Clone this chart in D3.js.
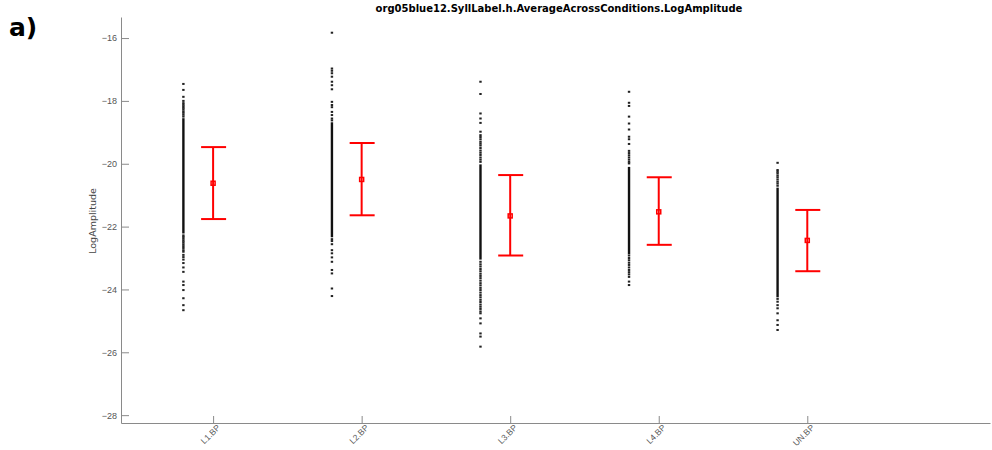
<!DOCTYPE html>
<html>
<head>
<meta charset="utf-8">
<script src="https://cdn.jsdelivr.net/npm/d3@7"></script>
<style>
  body { margin: 0; background: #fff; }
  svg { display: block; font-family: "DejaVu Sans", sans-serif; }
</style>
</head>
<body>
<svg id="chart" width="992" height="450"></svg>
<script>
// categories and summary stats (mean with error bar ends)
const categories = ["L1.BP", "L2.BP", "L3.BP", "L4.BP", "UN.BP"];
const means = [-20.62, -20.50, -21.66, -21.53, -22.44];
const upper = [-19.47, -19.34, -20.36, -20.43, -21.47];
const lower = [-21.76, -21.64, -22.92, -22.58, -23.42];

// dense run of overlapping points in each column (top, bottom)
const coreTop = [-18.55, -18.68, -20.02, -20.1, -20.76];
const coreBottom = [-22.22, -22.34, -23.05, -22.88, -24.25];

// the scattered points above / below the dense run
const l1Points = [-17.46, -17.65, -17.87, -18.0, -18.07, -18.12, -18.17, -18.22, -18.27, -18.33, -18.38, -18.44, -18.5,
  -22.28, -22.33, -22.39, -22.45, -22.5, -22.56, -22.62, -22.68, -22.75, -22.8, -22.9, -22.97, -23.05, -23.16,
  -23.3, -23.44, -23.75, -23.86, -24.02, -24.28, -24.5, -24.66];
const l2Points = [-15.83, -16.97, -17.04, -17.12, -17.23, -17.39, -17.5, -17.63, -18.03, -18.13, -18.2,
  -18.35, -18.45, -18.56, -18.62, -22.4, -22.46, -22.56, -22.75, -22.85, -22.98, -23.12, -23.38, -23.49, -23.97, -24.21];
const l3Points = [-17.39, -17.78, -18.4, -18.56, -18.7, -18.98, -19.09, -19.15, -19.22, -19.3, -19.36, -19.42,
  -19.5, -19.58, -19.65, -19.72, -19.8, -19.87, -19.94, -23.12, -23.2, -23.27, -23.35, -23.42, -23.5, -23.57,
  -23.64, -23.72, -23.8, -23.87, -23.95, -24.02, -24.1, -24.18, -24.25, -24.33, -24.4, -24.48, -24.55, -24.62,
  -24.7, -24.76, -24.92, -25.08, -25.4, -25.5, -25.82];
const l4Points = [-17.71, -18.06, -18.16, -18.5, -18.72, -18.91, -19.14, -19.22, -19.37, -19.59, -19.66, -19.73,
  -19.8, -19.87, -19.94, -19.99, -22.92, -23.0, -23.07, -23.15, -23.22, -23.3, -23.38, -23.45, -23.52, -23.6,
  -23.75, -23.86];
const unPoints = [-19.97, -20.2, -20.25, -20.3, -20.37, -20.43, -20.5, -20.57, -20.63, -20.7, -24.3, -24.39,
  -24.5, -24.6, -24.76, -24.98, -25.13, -25.29];
const points = [l1Points, l2Points, l3Points, l4Points, unPoints];

const yTicks = [-16, -18, -20, -22, -24, -26, -28];
const title = "org05blue12.SyllLabel.h.AverageAcrossConditions.LogAmplitude";

const svg = d3.select("#chart");
const axisColor = "#8a8a8a";

const x = d3.scaleLinear().domain([0.38, 6.23]).range([121, 990]);
const y = d3.scaleLinear().domain([-28.25, -15.33]).range([423, 17]);
const dotOffset = -0.2;

// y axis
const yAxis = svg.append("g")
  .attr("transform", "translate(121,0)")
  .call(d3.axisLeft(y).tickValues(yTicks).tickSize(0).tickPadding(4));
yAxis.select(".domain").attr("stroke", axisColor);
yAxis.selectAll("text").attr("fill", "#555").style("font-size", "9px");
yAxis.selectAll(".tick").append("line")
  .attr("x1", 0).attr("x2", 8).attr("stroke", axisColor);

// x axis
const xAxis = svg.append("g")
  .attr("transform", "translate(0,423)")
  .call(d3.axisBottom(x).tickValues([1, 2, 3, 4, 5]).tickSize(0).tickFormat(""));
xAxis.select(".domain").attr("stroke", axisColor);
xAxis.selectAll(".tick").append("line")
  .attr("y1", 0).attr("y2", -7).attr("stroke", axisColor);
xAxis.selectAll(".tick").append("text")
  .attr("transform", "translate(5,3) rotate(-45)")
  .attr("text-anchor", "end")
  .attr("dy", "0.35em")
  .attr("fill", "#555")
  .style("font-size", "8.5px")
  .text((d, i) => categories[i]);

// dense column cores
svg.append("g").selectAll("line")
  .data(categories)
  .join("line")
  .attr("x1", (d, i) => x(i + 1 + dotOffset))
  .attr("x2", (d, i) => x(i + 1 + dotOffset))
  .attr("y1", (d, i) => y(coreTop[i]))
  .attr("y2", (d, i) => y(coreBottom[i]))
  .attr("stroke", "#111")
  .attr("stroke-width", 2.4);

// scattered points
const flat = [];
points.forEach((arr, i) => arr.forEach(v => flat.push({ i: i, v: v })));
svg.append("g").selectAll("rect")
  .data(flat)
  .join("rect")
  .attr("x", d => x(d.i + 1 + dotOffset) - 1.2)
  .attr("y", d => y(d.v) - 1)
  .attr("width", 2.4)
  .attr("height", 2)
  .attr("fill", "#222");

// error bars
const eb = svg.append("g").attr("stroke", "#ff0000").attr("stroke-width", 2).attr("fill", "none");
eb.selectAll(".stem")
  .data(categories)
  .join("line")
  .attr("class", "stem")
  .attr("x1", (d, i) => x(i + 1)).attr("x2", (d, i) => x(i + 1))
  .attr("y1", (d, i) => y(upper[i])).attr("y2", (d, i) => y(lower[i]));
eb.selectAll(".capTop")
  .data(categories)
  .join("line")
  .attr("class", "capTop")
  .attr("x1", (d, i) => x(i + 1) - 12).attr("x2", (d, i) => x(i + 1) + 13)
  .attr("y1", (d, i) => y(upper[i])).attr("y2", (d, i) => y(upper[i]));
eb.selectAll(".capBot")
  .data(categories)
  .join("line")
  .attr("class", "capBot")
  .attr("x1", (d, i) => x(i + 1) - 12).attr("x2", (d, i) => x(i + 1) + 13)
  .attr("y1", (d, i) => y(lower[i])).attr("y2", (d, i) => y(lower[i]));
eb.selectAll(".mean")
  .data(categories)
  .join("rect")
  .attr("class", "mean")
  .attr("x", (d, i) => x(i + 1) - 2)
  .attr("y", (d, i) => y(means[i]) - 2)
  .attr("width", 4).attr("height", 4)
  .attr("stroke-width", 1.5);

// labels
svg.append("text")
  .attr("transform", "translate(96,221) rotate(-90)")
  .attr("text-anchor", "middle")
  .attr("fill", "#444")
  .style("font-size", "9.5px")
  .text("LogAmplitude");

svg.append("text")
  .attr("x", 559).attr("y", 12)
  .attr("text-anchor", "middle")
  .attr("font-weight", "bold")
  .style("font-size", "10px")
  .text(title);

svg.append("text")
  .attr("x", 9).attr("y", 36)
  .attr("font-weight", "bold")
  .style("font-size", "25px")
  .text("a)");
</script>
</body>
</html>
